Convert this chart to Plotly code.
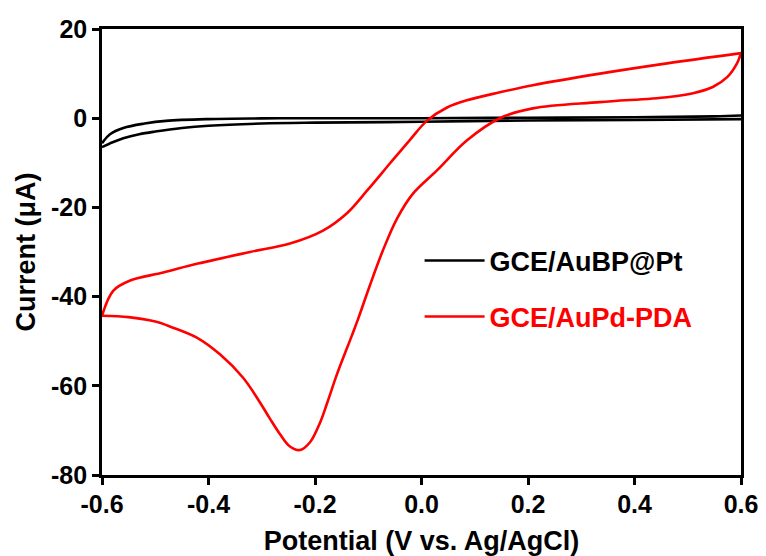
import plotly.graph_objects as go

# Cyclic voltammograms: potential (V vs. Ag/AgCl) and current (uA).
# Each electrode has a cathodic sweep (0.6 -> -0.6 V) and an anodic sweep back.

# GCE/AuBP@Pt
aubp_cathodic_potential = [0.6, 0.4, 0.2, 0.0, -0.2, -0.3, -0.4, -0.45, -0.5, -0.53, -0.56, -0.58, -0.6]
aubp_cathodic_current = [-0.2, -0.4, -0.5, -0.8, -1.0, -1.2, -1.7, -2.2, -3.0, -3.6, -4.5, -5.4, -6.5]
aubp_anodic_potential = [-0.6, -0.585, -0.56, -0.52, -0.48, -0.4, -0.3, -0.2, 0.0, 0.2, 0.4, 0.55, 0.6]
aubp_anodic_current = [-5.6, -3.6, -2.2, -1.2, -0.6, -0.2, -0.05, 0.0, 0.0, 0.1, 0.2, 0.4, 0.6]

# GCE/AuPd-PDA
aupd_cathodic_potential = [0.6, 0.5925, 0.574, 0.547, 0.51, 0.461, 0.335, 0.209, 0.147, 0.085, 0.029,
                           -0.016, -0.046, -0.072, -0.097, -0.119, -0.131, -0.159, -0.177, -0.191,
                           -0.209, -0.228, -0.247, -0.266, -0.285, -0.303, -0.335, -0.378, -0.422,
                           -0.47, -0.5, -0.55, -0.6]
aupd_cathodic_current = [14.6, 12.3, 9.2, 7.0, 5.6, 4.7, 3.6, 2.2, 0.0, -5.0, -11.7,
                         -16.9, -22.5, -29.5, -37.5, -45.0, -48.8, -57.5, -63.8, -68.4,
                         -72.6, -74.4, -73.6, -70.8, -67.3, -63.8, -58.2, -53.0, -49.2,
                         -46.8, -45.6, -44.6, -44.3]
aupd_anodic_potential = [-0.6, -0.579, -0.547, -0.485, -0.42, -0.322, -0.247, -0.185, -0.14, -0.102,
                         -0.059, -0.022, 0.01, 0.048, 0.085, 0.147, 0.209, 0.335, 0.461, 0.6]
aupd_anodic_current = [-44.3, -38.7, -36.4, -34.6, -32.6, -30.0, -28.1, -25.2, -21.3, -16.2,
                       -10.1, -4.9, -0.6, 2.4, 4.0, 5.8, 7.4, 10.0, 12.3, 14.6]

x_tickvals = [-0.6, -0.4, -0.2, 0.0, 0.2, 0.4, 0.6]
x_ticktext = ["-0.6", "-0.4", "-0.2", "0.0", "0.2", "0.4", "0.6"]
y_tickvals = [-80, -60, -40, -20, 0, 20]
y_ticktext = ["-80", "-60", "-40", "-20", "0", "20"]

FONT = "Arial, Liberation Sans, sans-serif"

fig = go.Figure()
sweeps = [
    ("GCE/AuBP@Pt", "#000000", aubp_cathodic_potential, aubp_cathodic_current, True),
    ("GCE/AuBP@Pt", "#000000", aubp_anodic_potential, aubp_anodic_current, False),
    ("GCE/AuPd-PDA", "#ff0000", aupd_cathodic_potential, aupd_cathodic_current, True),
    ("GCE/AuPd-PDA", "#ff0000", aupd_anodic_potential, aupd_anodic_current, False),
]
for label, color, xs, ys, in_legend in sweeps:
    fig.add_trace(go.Scatter(
        x=xs, y=ys, mode="lines",
        line=dict(color=color, width=2.6, shape="spline", smoothing=1.0),
        name=f"<span style='color:{color}'>{label}</span>",
        legendgroup=label, showlegend=in_legend,
    ))

axis_common = dict(
    showline=True, linecolor="black", linewidth=2.6, mirror=True,
    ticks="outside", ticklen=7, tickwidth=2.6, tickcolor="black",
    showgrid=False, zeroline=False,
    tickfont=dict(family=FONT, size=25, color="black", weight="bold"),
    automargin=False,
)

fig.update_xaxes(
    range=[-0.6, 0.6], tickmode="array", tickvals=x_tickvals, ticktext=x_ticktext,
    title=dict(text="Potential (V vs. Ag/AgCl)", standoff=15,
               font=dict(family=FONT, size=27, color="black", weight="bold")),
    ticklabelstandoff=-2,
    **axis_common,
)
fig.update_yaxes(
    range=[-80, 20], tickmode="array", tickvals=y_tickvals, ticktext=y_ticktext,
    title=dict(text="Current (\u03bcA)", standoff=8,
               font=dict(family=FONT, size=27, color="black", weight="bold")),
    **axis_common,
)

fig.update_layout(
    width=766, height=556,
    margin=dict(l=102, r=25, t=29, b=81),
    paper_bgcolor="white", plot_bgcolor="white",
    showlegend=True,
    legend=dict(
        x=0.497, y=0.535, xanchor="left", yanchor="top",
        bgcolor="rgba(0,0,0,0)", borderwidth=0,
        font=dict(family=FONT, size=27, color="black", weight="bold"),
        itemwidth=60, tracegroupgap=18, traceorder="grouped",
    ),
)

fig.write_html("out.html")
